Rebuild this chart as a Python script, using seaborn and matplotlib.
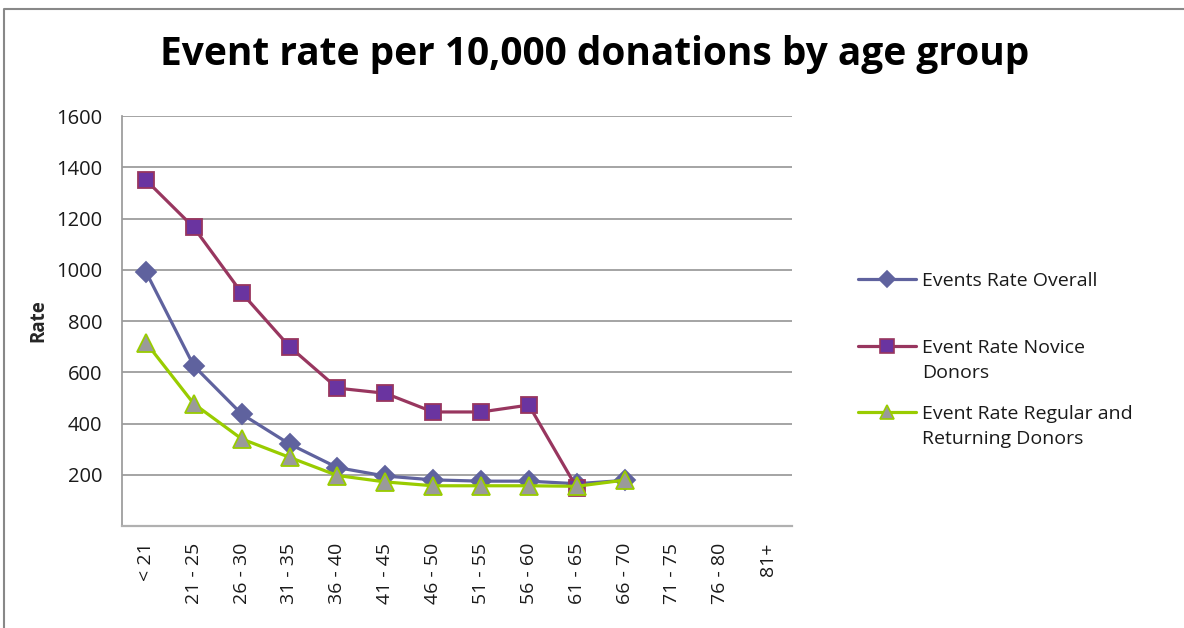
import numpy as np
import pandas as pd
import matplotlib
matplotlib.use("Agg")
import matplotlib.pyplot as plt
from matplotlib.lines import Line2D
import seaborn as sns

age_groups = ["< 21", "21 - 25", "26 - 30", "31 - 35", "36 - 40", "41 - 45", "46 - 50",
              "51 - 55", "56 - 60", "61 - 65", "66 - 70", "71 - 75", "76 - 80", "81+"]

overall = [992, 625, 437, 320, 228, 195, 180, 175, 175, 165, 178]
novice = [1350, 1165, 910, 700, 538, 518, 445, 445, 472, 150]
regular = [716, 477, 340, 268, 197, 172, 157, 157, 157, 155, 179]

series = [
    ("Events Rate Overall", overall, dict(color="#5F629E", marker="D", mfc="#5F629E", mec="#5F629E", ms=10)),
    ("Event Rate Novice\nDonors", novice, dict(color="#98365F", marker="s", mfc="#6A34A0", mec="#98365F", ms=12)),
    ("Event Rate Regular and\nReturning Donors", regular, dict(color="#99CC00", marker="^", mfc="#9A9A9A", mec="#99CC00", ms=13)),
]

sns.set_theme(style="white")
plt.rcParams["font.family"] = ["Open Sans", "DejaVu Sans"]

W, H = 1184, 628
fig = plt.figure(figsize=(W / 100, H / 100), dpi=100)
ax = fig.add_axes([122 / W, 1 - 526 / H, (792 - 122) / W, (526 - 116) / H])

handles = []
for name, vals, st in series:
    df = pd.DataFrame({"x": np.arange(len(vals)), "y": vals})
    sns.lineplot(data=df, x="x", y="y", ax=ax, color=st["color"], lw=2.3,
                 marker=st["marker"], markersize=st["ms"], markerfacecolor=st["mfc"],
                 markeredgecolor=st["mec"], markeredgewidth=1.3, legend=False)
    handles.append(Line2D([], [], color=st["color"], lw=2.3, marker=st["marker"],
                          markersize=st["ms"] * 0.8, markerfacecolor=st["mfc"],
                          markeredgecolor=st["mec"], markeredgewidth=1.2))

ax.set_xlim(-0.5, len(age_groups) - 0.5)
ax.set_ylim(0, 1600)
ax.set_xticks(np.arange(len(age_groups)))
ax.set_xticklabels(age_groups, rotation=90, fontsize=14, color="#1a1a1a")
ax.set_yticks(np.arange(200, 1601, 200))
ax.tick_params(axis="y", labelsize=14.5, colors="#1a1a1a", length=0, pad=14)
ax.tick_params(axis="x", length=0, pad=12)
ax.yaxis.grid(True, color="#8C8C8C", lw=1.1)
ax.set_axisbelow(True)
for s in ["top", "right"]:
    ax.spines[s].set_visible(False)
ax.spines["left"].set_color("#9A9A9A")
ax.spines["bottom"].set_color("#B0B0B0")
ax.spines["bottom"].set_linewidth(1.6)
ax.set_xlabel("")
ax.set_ylabel("Rate", fontsize=13.5, fontweight="bold", labelpad=6)

# one legend box per series, stacked with equal slot heights;
# the line symbol sits beside the first line of its label
slot_tops = [272, 339, 405]
for (name, _, _), h, top in zip(series, handles, slot_tops):
    leg = fig.legend([h], [name], loc="upper left",
                     bbox_to_anchor=(858 / W, 1 - top / H), frameon=False,
                     fontsize=14, handlelength=3.0, handletextpad=0.3,
                     borderpad=0, borderaxespad=0)
    for t in leg.get_texts():
        t.set_linespacing(1.5)
        t.set_color("#1a1a1a")
    for col in leg._legend_handle_box.get_children():
        for row in col.get_children():
            row.align = "top"

fig.text(595 / W, 1 - 55 / H, "Event rate per 10,000 donations by age group",
         ha="center", va="center", fontsize=28, fontweight="bold", color="black")

# chart area frame (left and top edges)
fig.add_artist(Line2D([4 / W, 4 / W, 1.0], [0.0, 1 - 9 / H, 1 - 9 / H],
                      color="#888888", lw=1.5, transform=fig.transFigure))

fig.savefig("out.png", dpi=100)
